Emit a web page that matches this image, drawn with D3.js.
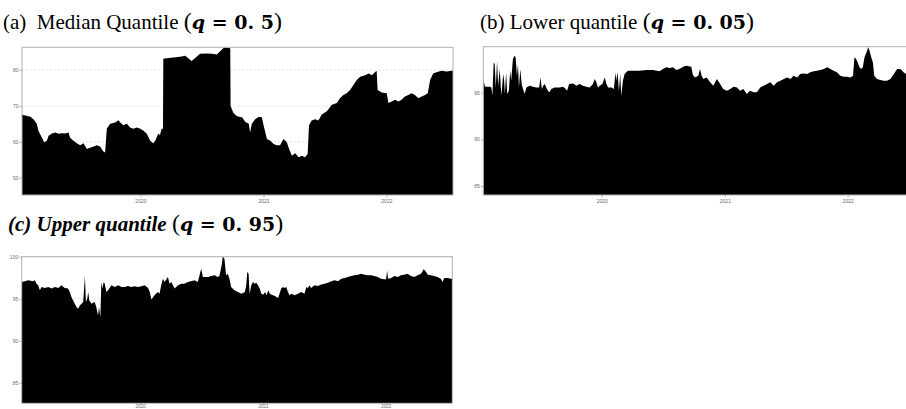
<!DOCTYPE html>
<html>
<head>
<meta charset="utf-8">
<script src="https://cdn.jsdelivr.net/npm/d3@7"></script>
<style>
  html, body { margin: 0; padding: 0; background: #fff; }
  svg { display: block; }
</style>
</head>
<body>
<svg id="chart" width="906" height="409"></svg>
<script>
// Quantile estimates over time, one series per quantile level
const medianSeries = [
  ["2019-01-14",67.5],["2019-02-08",67.0],["2019-02-17",66.3],["2019-02-27",65.0],["2019-03-04",63.0],
  ["2019-03-14",61.2],["2019-03-21",59.9],["2019-03-29",60.3],["2019-04-03",61.7],["2019-04-13",62.3],
  ["2019-04-23",62.6],["2019-05-03",62.2],["2019-05-12",62.4],["2019-05-22",62.3],["2019-06-01",62.6],
  ["2019-06-06",61.1],["2019-06-16",60.3],["2019-06-26",59.6],["2019-07-06",59.0],["2019-07-16",59.6],
  ["2019-07-26",58.0],["2019-08-04",58.3],["2019-08-15",58.7],["2019-08-24",59.0],["2019-09-03",58.7],
  ["2019-09-13",57.3],["2019-09-18",57.0],["2019-09-23",63.6],["2019-10-03",65.0],["2019-10-18",65.4],
  ["2019-10-28",66.0],["2019-11-02",65.4],["2019-11-11",64.6],["2019-11-22",65.0],["2019-12-01",64.0],
  ["2019-12-11",63.6],["2019-12-21",64.0],["2020-01-01",63.6],["2020-01-10",63.1],["2020-01-20",62.2],
  ["2020-01-30",60.3],["2020-02-08",59.6],["2020-02-14",60.3],["2020-02-23",62.3],["2020-02-28",61.9],
  ["2020-03-04",63.6],["2020-03-08",63.6],["2020-03-09",83.1],["2020-03-19",83.3],["2020-04-08",83.5],
  ["2020-04-28",83.7],["2020-05-13",84.0],["2020-05-22",83.3],["2020-06-01",82.5],["2020-06-11",83.3],
  ["2020-06-26",84.5],["2020-07-16",84.6],["2020-08-01",84.5],["2020-08-15",84.3],["2020-08-25",85.2],
  ["2020-09-04",86.1],["2020-09-13",86.3],["2020-09-21",86.1],["2020-09-24",86.0],["2020-09-25",70.0],
  ["2020-10-03",68.1],["2020-10-13",67.2],["2020-10-23",66.9],["2020-10-29",66.8],["2020-11-08",65.5],
  ["2020-11-18",65.0],["2020-11-22",62.6],["2020-11-27",65.0],["2020-12-07",66.3],["2020-12-17",66.9],
  ["2020-12-27",66.8],["2021-01-01",64.6],["2021-01-11",60.8],["2021-01-21",60.3],["2021-01-31",59.4],
  ["2021-02-09",59.0],["2021-02-19",59.0],["2021-03-01",60.8],["2021-03-11",59.9],["2021-03-16",58.5],
  ["2021-03-26",56.1],["2021-04-05",56.8],["2021-04-15",55.7],["2021-04-25",56.1],["2021-05-04",55.7],
  ["2021-05-12",56.6],["2021-05-16",64.6],["2021-05-24",65.9],["2021-06-03",66.3],["2021-06-13",65.9],
  ["2021-06-23",67.6],["2021-07-08",68.5],["2021-07-23",70.3],["2021-08-07",70.8],["2021-08-16",72.1],
  ["2021-08-26",73.0],["2021-09-05",73.5],["2021-09-15",74.4],["2021-09-25",75.8],["2021-10-05",77.2],
  ["2021-10-15",78.1],["2021-10-30",78.5],["2021-11-09",79.0],["2021-11-19",78.5],["2021-11-28",79.4],
  ["2021-12-03",79.8],["2021-12-06",74.4],["2021-12-18",73.7],["2022-01-02",73.5],["2022-01-07",70.8],
  ["2022-01-17",71.2],["2022-01-27",71.7],["2022-02-06",71.2],["2022-02-15",71.7],["2022-02-25",72.6],
  ["2022-03-07",73.0],["2022-03-17",73.5],["2022-03-27",73.0],["2022-04-06",72.1],["2022-04-16",72.6],
  ["2022-04-26",73.0],["2022-05-04",73.5],["2022-05-11",77.2],["2022-05-20",79.0],["2022-05-30",79.4],
  ["2022-06-14",79.8],["2022-06-29",79.6],["2022-07-14",79.8],["2022-07-18",79.8]
];

const lowerSeries = [
  ["2019-01-14",96.5],["2019-01-19",95.65],["2019-02-03",95.65],["2019-02-07",95.57],["2019-02-10",94.7],
  ["2019-02-14",98.25],["2019-02-17",98.08],["2019-02-20",95.57],["2019-02-24",98.43],["2019-02-27",95.75],
  ["2019-03-04",97.54],["2019-03-07",95.57],["2019-03-09",94.7],["2019-03-14",97.0],["2019-03-17",96.3],
  ["2019-03-19",94.86],["2019-03-23",97.18],["2019-03-26",94.86],["2019-03-31",95.22],["2019-04-04",97.36],
  ["2019-04-07",96.3],["2019-04-12",98.61],["2019-04-17",98.97],["2019-04-20",98.79],["2019-04-24",96.82],
  ["2019-04-27",98.08],["2019-04-30",95.57],["2019-05-04",97.54],["2019-05-08",95.93],["2019-05-12",95.4],
  ["2019-05-17",94.86],["2019-05-22",95.57],["2019-06-01",95.75],["2019-06-11",95.65],["2019-06-21",95.57],
  ["2019-06-29",95.57],["2019-07-03",96.64],["2019-07-07",95.4],["2019-07-11",95.75],["2019-07-16",95.93],
  ["2019-07-20",95.57],["2019-07-25",95.22],["2019-07-30",95.04],["2019-08-04",95.4],["2019-08-14",95.57],
  ["2019-08-29",95.57],["2019-09-08",95.65],["2019-09-16",95.4],["2019-09-20",95.22],["2019-09-26",95.93],
  ["2019-10-08",96.0],["2019-10-18",95.75],["2019-10-27",95.93],["2019-11-06",95.75],["2019-11-16",95.65],
  ["2019-11-26",95.57],["2019-12-06",95.93],["2019-12-11",96.46],["2019-12-16",96.11],["2019-12-21",95.57],
  ["2019-12-26",95.75],["2020-01-03",95.93],["2020-01-10",96.64],["2020-01-15",95.93],["2020-01-20",95.57],
  ["2020-01-30",95.57],["2020-02-06",95.4],["2020-02-11",97.18],["2020-02-13",96.29],["2020-02-17",97.18],
  ["2020-02-21",95.22],["2020-02-25",97.0],["2020-02-28",94.68],["2020-03-04",96.29],["2020-03-09",97.0],
  ["2020-03-14",97.18],["2020-03-19",97.36],["2020-04-03",97.36],["2020-04-23",97.36],["2020-05-13",97.43],
  ["2020-06-01",97.43],["2020-06-21",97.29],["2020-07-01",97.54],["2020-07-11",97.72],["2020-07-21",97.65],
  ["2020-07-31",97.72],["2020-08-10",97.43],["2020-08-19",97.54],["2020-08-30",97.79],["2020-09-08",97.9],
  ["2020-09-23",97.79],["2020-09-28",96.9],["2020-10-04",96.64],["2020-10-14",96.82],["2020-10-19",97.54],
  ["2020-10-24",96.82],["2020-10-29",96.46],["2020-11-08",96.64],["2020-11-18",96.11],["2020-11-28",95.75],
  ["2020-12-08",96.46],["2020-12-18",95.93],["2020-12-27",95.4],["2021-01-07",95.22],["2021-01-17",95.4],
  ["2021-01-27",95.65],["2021-02-06",95.57],["2021-02-15",95.22],["2021-02-25",95.4],["2021-03-07",94.86],
  ["2021-03-17",95.22],["2021-03-27",95.04],["2021-04-06",95.04],["2021-04-16",95.57],["2021-04-26",95.75],
  ["2021-05-06",95.93],["2021-05-16",96.11],["2021-05-26",95.75],["2021-06-05",96.11],["2021-06-15",96.29],
  ["2021-06-25",96.46],["2021-07-05",96.64],["2021-07-15",96.46],["2021-07-24",96.82],["2021-08-04",96.64],
  ["2021-08-13",97.0],["2021-08-23",97.07],["2021-09-02",97.0],["2021-09-12",97.18],["2021-09-22",97.29],
  ["2021-10-02",97.36],["2021-10-12",97.43],["2021-10-22",97.54],["2021-11-01",97.72],["2021-11-11",97.54],
  ["2021-11-20",97.36],["2021-11-30",97.18],["2021-12-10",96.82],["2021-12-20",96.71],["2021-12-30",96.71],
  ["2022-01-09",96.64],["2022-01-17",96.82],["2022-01-21",98.79],["2022-01-26",98.61],["2022-01-31",98.25],
  ["2022-02-05",97.72],["2022-02-10",97.54],["2022-02-15",97.72],["2022-02-20",98.79],["2022-02-26",99.33],
  ["2022-03-03",99.86],["2022-03-07",99.5],["2022-03-12",98.79],["2022-03-17",98.25],["2022-03-21",96.82],
  ["2022-03-29",96.46],["2022-04-08",96.36],["2022-04-18",96.29],["2022-04-28",96.29],["2022-05-08",96.46],
  ["2022-05-18",97.0],["2022-05-28",97.54],["2022-06-07",97.54],["2022-06-16",97.18],["2022-06-24",97.0],
  ["2022-07-18",96.8]
];

const upperSeries = [
  ["2019-01-14",97.0],["2019-01-24",97.07],["2019-02-02",97.19],["2019-02-17",97.07],["2019-02-22",97.19],
  ["2019-02-27",96.79],["2019-03-04",96.6],["2019-03-09",96.0],["2019-03-14",96.4],["2019-03-24",96.28],
  ["2019-04-03",96.4],["2019-04-13",96.2],["2019-04-23",96.4],["2019-05-03",96.28],["2019-05-12",96.6],
  ["2019-05-22",96.28],["2019-06-01",96.2],["2019-06-06",95.8],["2019-06-11",95.2],["2019-06-16",94.8],
  ["2019-06-21",94.4],["2019-06-26",94.0],["2019-07-01",93.8],["2019-07-06",94.2],["2019-07-11",94.4],
  ["2019-07-16",94.6],["2019-07-21",97.7],["2019-07-24",94.6],["2019-07-28",95.0],["2019-07-31",95.8],
  ["2019-08-03",94.8],["2019-08-10",94.4],["2019-08-19",94.6],["2019-08-24",94.0],["2019-08-27",93.4],
  ["2019-08-29",93.0],["2019-09-01",94.0],["2019-09-05",92.8],["2019-09-08",97.0],["2019-09-11",96.2],
  ["2019-09-15",97.0],["2019-09-18",96.79],["2019-09-23",95.8],["2019-09-28",96.0],["2019-10-08",96.6],
  ["2019-10-18",96.4],["2019-10-28",96.6],["2019-11-07",96.4],["2019-11-16",96.4],["2019-11-26",96.52],
  ["2019-12-06",96.4],["2019-12-16",96.48],["2019-12-26",96.4],["2020-01-05",96.48],["2020-01-15",96.6],
  ["2020-01-25",96.28],["2020-01-30",95.8],["2020-02-04",94.9],["2020-02-13",95.4],["2020-02-23",95.8],
  ["2020-02-28",95.6],["2020-03-04",96.6],["2020-03-09",97.39],["2020-03-14",96.99],["2020-03-24",97.58],
  ["2020-03-29",96.79],["2020-04-03",96.99],["2020-04-13",96.2],["2020-04-23",96.6],["2020-05-03",96.79],
  ["2020-05-12",96.79],["2020-05-22",96.99],["2020-06-01",97.07],["2020-06-11",97.19],["2020-06-21",96.99],
  ["2020-07-01",98.57],["2020-07-06",97.58],["2020-07-11",97.58],["2020-07-21",97.58],["2020-07-31",97.7],
  ["2020-08-10",97.78],["2020-08-19",97.58],["2020-08-24",97.7],["2020-08-31",98.97],["2020-09-03",100.0],
  ["2020-09-08",99.8],["2020-09-13",97.78],["2020-09-18",97.98],["2020-09-23",97.39],["2020-09-28",96.4],
  ["2020-10-08",96.0],["2020-10-18",95.8],["2020-10-29",95.6],["2020-11-08",95.8],["2020-11-12",96.6],
  ["2020-11-15",98.18],["2020-11-19",97.98],["2020-11-22",95.6],["2020-11-27",96.6],["2020-12-02",96.99],
  ["2020-12-07",96.79],["2020-12-12",96.91],["2020-12-17",96.6],["2020-12-22",96.2],["2020-12-27",95.6],
  ["2021-01-01",95.48],["2021-01-07",95.8],["2021-01-11",95.4],["2021-01-17",96.0],["2021-01-21",95.6],
  ["2021-01-27",95.48],["2021-02-05",95.32],["2021-02-15",95.08],["2021-02-19",95.6],["2021-02-24",96.2],
  ["2021-03-01",96.4],["2021-03-06",96.28],["2021-03-11",96.4],["2021-03-16",95.8],["2021-03-21",95.4],
  ["2021-03-26",95.6],["2021-04-05",95.4],["2021-04-15",95.6],["2021-04-25",95.8],["2021-05-04",95.6],
  ["2021-05-10",96.4],["2021-05-15",96.28],["2021-05-19",96.6],["2021-05-24",96.28],["2021-06-03",96.6],
  ["2021-06-13",96.52],["2021-06-23",96.68],["2021-07-03",96.79],["2021-07-13",96.91],["2021-07-23",97.07],
  ["2021-08-02",97.19],["2021-08-12",97.07],["2021-08-22",97.39],["2021-09-01",97.47],["2021-09-10",97.58],
  ["2021-09-20",97.7],["2021-09-30",97.78],["2021-10-10",97.86],["2021-10-20",97.98],["2021-10-30",97.86],
  ["2021-11-09",97.78],["2021-11-19",97.78],["2021-11-28",97.7],["2021-12-08",97.58],["2021-12-18",97.39],
  ["2021-12-28",97.31],["2022-01-02",97.31],["2022-01-05",98.37],["2022-01-08",97.39],["2022-01-17",97.47],
  ["2022-01-27",97.7],["2022-02-06",97.58],["2022-02-15",97.78],["2022-02-25",97.86],["2022-03-07",97.98],
  ["2022-03-17",97.7],["2022-03-27",97.58],["2022-04-06",97.78],["2022-04-16",97.98],["2022-04-24",98.5],
  ["2022-05-01",98.18],["2022-05-06",97.86],["2022-05-15",97.78],["2022-05-25",97.7],["2022-06-04",97.58],
  ["2022-06-14",97.39],["2022-06-19",96.99],["2022-06-24",97.47],["2022-07-04",97.47],["2022-07-14",97.39],
  ["2022-07-18",97.39]
];

const dateRange = ["2019-01-14", "2022-07-18"];
const yearTicks = ["2020-01-01", "2021-01-01", "2022-01-01"];
const medianTicks = [50, 60, 70, 80];
const lowerTicks = [85, 90, 95];
const upperTicks = [85, 90, 95, 100];
const medianRange = [45.17, 86.32];
const lowerRange = [84.04, 99.93];
const upperRange = [82.55, 100];

const parseDate = d3.timeParse("%Y-%m-%d");
const svg = d3.select("#chart");

const panels = [
  { series: medianSeries, ticks: medianTicks, range: medianRange,
    box: { left: 22, top: 47.3, right: 453, bottom: 195 }, xTick: 2.5, xPad: 1.5, xFont: 5 },
  { series: lowerSeries, ticks: lowerTicks, range: lowerRange,
    box: { left: 483.3, top: 46.7, right: 914.3, bottom: 195 }, xTick: 2.5, xPad: 1.5, xFont: 5 },
  { series: upperSeries, ticks: upperTicks, range: upperRange,
    box: { left: 21.7, top: 256.7, right: 452.3, bottom: 403.3 }, xTick: 1.5, xPad: 0.4, xFont: 4.5 }
];

panels.forEach((p, i) => {
  const b = p.box;
  const w = b.right - b.left, h = b.bottom - b.top;
  const x = d3.scaleTime().domain(dateRange.map(parseDate)).range([0, w]);
  const y = d3.scaleLinear().domain(p.range).range([h, 0]);
  const g = svg.append("g").attr("transform", `translate(${b.left},${b.top})`);

  g.append("clipPath").attr("id", "clip" + i)
    .append("rect").attr("width", w).attr("height", h);

  // dashed horizontal grid at the major ticks
  g.append("g").selectAll("line").data(p.ticks).join("line")
    .attr("x1", 0).attr("x2", w)
    .attr("y1", d => y(d)).attr("y2", d => y(d))
    .attr("stroke", "#dedede").attr("stroke-width", 0.8)
    .attr("stroke-dasharray", "2,2");

  const area = d3.area()
    .x(d => x(parseDate(d[0])))
    .y0(h)
    .y1(d => y(d[1]))
    .curve(d3.curveLinear);

  g.append("path")
    .datum(p.series)
    .attr("clip-path", `url(#clip${i})`)
    .attr("d", area)
    .attr("fill", "#000");

  // panel frame
  g.append("rect").attr("width", w).attr("height", h)
    .attr("fill", "none").attr("stroke", "#b0b0b0").attr("stroke-width", 1);

  const yAxis = d3.axisLeft(y).tickValues(p.ticks).tickSize(2.5).tickPadding(1);
  const yg = g.append("g").call(yAxis);
  const xAxis = d3.axisBottom(x).tickValues(yearTicks.map(parseDate))
    .tickFormat(d3.timeFormat("%Y")).tickSize(p.xTick).tickPadding(p.xPad);
  const xg = g.append("g").attr("transform", `translate(0,${h})`).call(xAxis);
  [yg, xg].forEach(ax => {
    ax.select(".domain").remove();
    ax.selectAll("line").attr("stroke", "#8a8a8a").attr("stroke-width", 0.6);
    ax.selectAll("text").attr("fill", "#6a6a6a")
      .style("font-family", "Liberation Sans, Arial, sans-serif").style("font-size", "5px");
  });
  xg.selectAll("text").style("font-size", p.xFont + "px");
});

// panel titles
function title(x, y, label, q, labelStyle) {
  const t = svg.append("text").attr("x", x).attr("y", y)
    .attr("xml:space", "preserve")
    .style("font-family", "'Liberation Serif', 'Times New Roman', serif")
    .style("font-size", "21px").attr("fill", "#000");
  t.append("tspan").text(label)
    .style("font-weight", labelStyle.weight).style("font-style", labelStyle.style);
  t.append("tspan").text("(").style("font-size", "24px");
  t.append("tspan").text("q").style("font-weight", "bold").style("font-style", "italic")
    .style("font-family", "'DejaVu Serif', serif").style("font-size", "19px");
  t.append("tspan").text(" = ").style("font-weight", "bold")
    .style("font-family", "'DejaVu Serif', serif").style("font-size", "19px");
  t.append("tspan").text(q).style("font-weight", "bold")
    .style("font-family", "'DejaVu Serif', serif").style("font-size", "19px");
  t.append("tspan").text(")").style("font-size", "24px");
}
title(3, 29, "(a)  Median Quantile ", "0. 5", { weight: "normal", style: "normal" });
title(480, 29, "(b) Lower quantile ", "0. 05", { weight: "normal", style: "normal" });
title(8, 231, "(c) Upper quantile ", "0. 95", { weight: "bold", style: "italic" });
</script>
</body>
</html>
